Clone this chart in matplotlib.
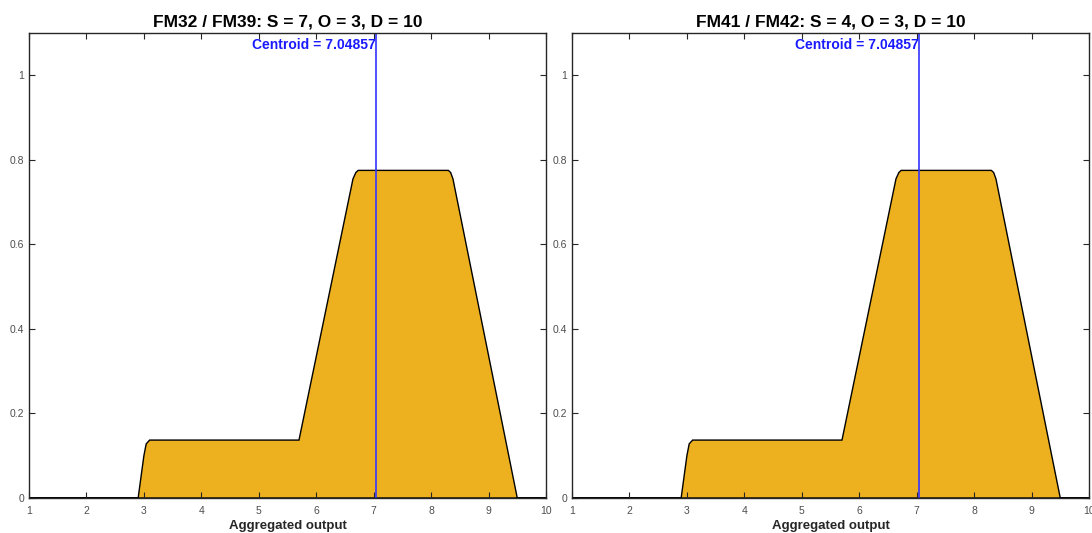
import numpy as np
import matplotlib
matplotlib.use("Agg")
import matplotlib.pyplot as plt

plt.rcParams['font.family'] = ['Liberation Sans', 'DejaVu Sans']

# aggregated output shape (same for both panels)
agg_x = [1.0, 2.9, 3.0, 3.04, 3.1, 5.7, 6.64, 6.69, 6.73, 8.3, 8.34, 8.38, 9.5, 10.0]
agg_y = [0.0, 0.0, 0.1, 0.128, 0.137, 0.137, 0.755, 0.77, 0.775, 0.775, 0.77, 0.755, 0.0, 0.0]

titles = ["FM32 / FM39: S = 7, O = 3, D = 10",
          "FM41 / FM42: S = 4, O = 3, D = 10"]
centroids = [7.04857, 7.04857]

xticks = [1, 2, 3, 4, 5, 6, 7, 8, 9, 10]
yticks = [0, 0.2, 0.4, 0.6, 0.8, 1]

fig = plt.figure(figsize=(10.92, 5.33), dpi=100)
positions = [[29/1092, 35/533, 517/1092, 465/533],
             [572/1092, 35/533, 517/1092, 465/533]]

for pos, title, c in zip(positions, titles, centroids):
    ax = fig.add_axes(pos)
    ax.fill(agg_x, agg_y, facecolor="#EDB120", edgecolor="black", linewidth=1.0)
    ax.axvline(c, color="#3333ff", linewidth=1.2)
    ax.text(c - 0.02, 1.072, "Centroid = %g" % c, color="#1a1aff", fontsize=10,
            fontweight="bold", ha="right", va="center")
    ax.set_xlim(1, 10)
    ax.set_ylim(0, 1.1)
    ax.set_xticks(xticks)
    ax.set_yticks(yticks)
    ax.set_yticklabels(["0", "0.2", "0.4", "0.6", "0.8", "1"])
    ax.tick_params(direction="in", top=True, right=True, length=4, width=0.8,
                   labelsize=7.5, labelcolor="#4d4d4d", color="#262626")
    ax.tick_params(axis="x", pad=6)
    for s in ax.spines.values():
        s.set_linewidth(1.0)
        s.set_color("#262626")
    ax.set_title(title, fontsize=12.5, fontweight="bold", pad=5)
    ax.set_xlabel("Aggregated output", fontsize=9.5, fontweight="bold",
                  color="#262626", labelpad=3)

fig.savefig("out.png", dpi=100)
